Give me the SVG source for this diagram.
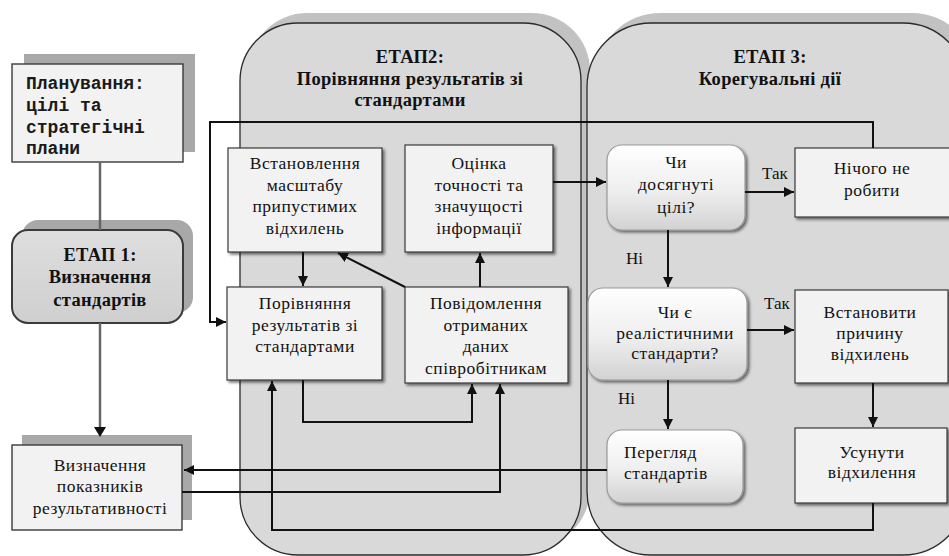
<svg xmlns="http://www.w3.org/2000/svg" width="949" height="556" viewBox="0 0 949 556">
  <defs>
    <style>
      .panel { fill: #d9d9d9; stroke: #2a2a2a; stroke-width: 1.3; }
      .panel-shadow { fill: #c2c2c2; }
      .box { fill: #f2f2f2; stroke: #3a3a3a; stroke-width: 1.4; }
      .box-shadow { fill: #a8a8a8; }
      .inner { fill: #f2f2f2; stroke: #3a3a3a; stroke-width: 1.2; filter: url(#soft); }
      .decision { fill: url(#decGrad); stroke: #9a9a9a; stroke-width: 1.2; filter: url(#soft); }
      .stage1 { fill: url(#st1Grad); stroke: #3a3a3a; stroke-width: 2; }
      .t { font-size: 17.5px; letter-spacing: 0.5px; fill: #111; text-anchor: middle; }
      .tl { font-size: 17.5px; letter-spacing: 0.5px; fill: #111; }
      .title { font-size: 18.5px; letter-spacing: 0.3px; font-weight: bold; fill: #111; text-anchor: middle; }
      .mono { font-size: 18px; fill: #1a1a1a; font-weight: bold; }
      .lbl { font-size: 17px; fill: #111; }
      .conn { fill: none; stroke: #111; stroke-width: 2; }
      .conn-gray { fill: none; stroke: #666; stroke-width: 2.5; }
    </style>
    <marker id="arrow" viewBox="0 0 10 10" refX="10" refY="5" markerWidth="10" markerHeight="10" markerUnits="userSpaceOnUse" orient="auto">
      <path d="M0,0 L10,5 L0,10 z" fill="#111"/>
    </marker>
    <linearGradient id="decGrad" x1="0" y1="0" x2="0" y2="1">
      <stop offset="0" stop-color="#ffffff"/>
      <stop offset="0.55" stop-color="#eeeeee"/>
      <stop offset="1" stop-color="#d2d2d2"/>
    </linearGradient>
    <linearGradient id="st1Grad" x1="0" y1="0" x2="0" y2="1">
      <stop offset="0" stop-color="#dedede"/>
      <stop offset="1" stop-color="#cfcfcf"/>
    </linearGradient>
    <filter id="soft" x="-10%" y="-10%" width="125%" height="130%">
      <feGaussianBlur in="SourceAlpha" stdDeviation="1.5"/>
      <feOffset dx="2" dy="2" result="b"/>
      <feComponentTransfer><feFuncA type="linear" slope="0.55"/></feComponentTransfer>
      <feMerge><feMergeNode/><feMergeNode in="SourceGraphic"/></feMerge>
    </filter>
  </defs>

  <rect width="949" height="556" fill="#ffffff"/>

  <g font-family="'Liberation Serif', 'DejaVu Serif', 'Times New Roman', serif">
  <!-- Stage 2 panel -->
  <g id="stage2">
    <rect class="panel-shadow" x="249" y="13" width="341" height="534" rx="58"/>
    <rect class="panel" x="240" y="23" width="341" height="532" rx="58"/>
    <text class="title" x="410" y="63">ЕТАП2:</text>
    <text class="title" x="410" y="85">Порівняння результатів зі</text>
    <text class="title" x="410" y="106">стандартами</text>
  </g>

  <!-- Stage 3 panel -->
  <g id="stage3">
    <rect class="panel-shadow" x="596" y="13" width="380" height="534" rx="64"/>
    <rect class="panel" x="587" y="23" width="380" height="532" rx="64"/>
    <text class="title" x="770" y="63">ЕТАП 3:</text>
    <text class="title" x="770" y="85">Корегувальні дії</text>
  </g>

  <!-- Left column -->
  <g id="planning">
    <rect class="box-shadow" x="24" y="54" width="171" height="98"/>
    <rect class="box" x="12" y="64" width="171" height="98"/>
    <g font-family="'Liberation Mono', 'DejaVu Sans Mono', monospace">
      <text class="mono" x="26" y="89">Планування:</text>
      <text class="mono" x="26" y="111">цілі та</text>
      <text class="mono" x="26" y="133">стратегічні</text>
      <text class="mono" x="26" y="154">плани</text>
    </g>
  </g>

  <g id="stage1">
    <rect class="box-shadow" x="22" y="220" width="171" height="93" rx="16"/>
    <rect class="stage1" x="12" y="230" width="171" height="93" rx="16"/>
    <text class="title" x="100" y="261">ЕТАП 1:</text>
    <text class="title" x="100" y="283">Визначення</text>
    <text class="title" x="100" y="306">стандартів</text>
  </g>

  <g id="indicators">
    <rect class="box-shadow" x="22" y="435" width="170" height="85"/>
    <rect class="box" x="12" y="445" width="170" height="85"/>
    <text class="t" x="100" y="471">Визначення</text>
    <text class="t" x="100" y="492">показників</text>
    <text class="t" x="100" y="514">результативності</text>
  </g>

  <!-- Stage 2 nodes -->
  <g id="set-scale">
    <rect class="inner" x="228" y="148" width="154" height="104"/>
    <text class="t" x="305" y="169">Встановлення</text>
    <text class="t" x="305" y="191">масштабу</text>
    <text class="t" x="305" y="212">припустимих</text>
    <text class="t" x="305" y="234">відхилень</text>
  </g>

  <g id="assess">
    <rect class="inner" x="405" y="145" width="148" height="107"/>
    <text class="t" x="479" y="169">Оцінка</text>
    <text class="t" x="479" y="191">точності та</text>
    <text class="t" x="479" y="212">значущості</text>
    <text class="t" x="479" y="234">інформації</text>
  </g>

  <g id="compare">
    <rect class="inner" x="227" y="287" width="155" height="93"/>
    <text class="t" x="305" y="309">Порівняння</text>
    <text class="t" x="305" y="331">результатів зі</text>
    <text class="t" x="305" y="352">стандартами</text>
  </g>

  <g id="report">
    <rect class="inner" x="405" y="287" width="163" height="96"/>
    <text class="t" x="486" y="309">Повідомлення</text>
    <text class="t" x="486" y="331">отриманих</text>
    <text class="t" x="486" y="352">даних</text>
    <text class="t" x="486" y="374">співробітникам</text>
  </g>

  <!-- Stage 3 nodes -->
  <g id="goals-reached">
    <rect class="decision" x="607" y="145" width="138" height="85" rx="15"/>
    <text class="t" x="676" y="168">Чи</text>
    <text class="t" x="676" y="190">досягнуті</text>
    <text class="t" x="676" y="213">цілі?</text>
  </g>

  <g id="do-nothing">
    <rect class="inner" x="795" y="148" width="155" height="69"/>
    <text class="t" x="872" y="174">Нічого не</text>
    <text class="t" x="872" y="196">робити</text>
  </g>

  <g id="realistic">
    <rect class="decision" x="588" y="288" width="159" height="92" rx="15"/>
    <text class="t" x="675" y="318">Чи є</text>
    <text class="t" x="675" y="339">реалістичними</text>
    <text class="t" x="675" y="359">стандарти?</text>
  </g>

  <g id="find-cause">
    <rect class="inner" x="795" y="290" width="153" height="93"/>
    <text class="t" x="870" y="318">Встановити</text>
    <text class="t" x="870" y="339">причину</text>
    <text class="t" x="870" y="360">відхилень</text>
  </g>

  <g id="revise">
    <rect class="decision" x="607" y="430" width="136" height="73" rx="15"/>
    <text class="tl" x="624" y="458">Перегляд</text>
    <text class="tl" x="624" y="479">стандартів</text>
  </g>

  <g id="eliminate">
    <rect class="inner" x="795" y="428" width="152" height="75"/>
    <text class="t" x="872" y="458">Усунути</text>
    <text class="t" x="872" y="478">відхилення</text>
  </g>

  <!-- Connectors -->
  <g id="connectors">
    <path class="conn-gray" d="M100,162 V230"/>
    <path class="conn-gray" d="M100,323 V428"/>
    <path d="M100,437 l-6,-10 h12 z" fill="#111"/>
    <path class="conn" d="M607,470 H184" marker-end="url(#arrow)"/>
    <path class="conn" d="M182,492 H500 V384" marker-end="url(#arrow)"/>
    <path class="conn" d="M303,380 V422 H472 V384" marker-end="url(#arrow)"/>
    <path class="conn" d="M873,503 V530 H272 V381" marker-end="url(#arrow)"/>
    <path class="conn" d="M873,148 V122 H210 V322 H226" marker-end="url(#arrow)"/>
    <path class="conn" d="M303,252 V286" marker-end="url(#arrow)"/>
    <path class="conn" d="M405,287 L338,253" marker-end="url(#arrow)"/>
    <path class="conn" d="M480,287 V253" marker-end="url(#arrow)"/>
    <path class="conn" d="M553,182 H606" marker-end="url(#arrow)"/>
    <path class="conn" d="M745,192 H794" marker-end="url(#arrow)"/>
    <path class="conn" d="M668,230 V287" marker-end="url(#arrow)"/>
    <path class="conn" d="M747,330 H794" marker-end="url(#arrow)"/>
    <path class="conn" d="M668,380 V429" marker-end="url(#arrow)"/>
    <path class="conn" d="M873,383 V427" marker-end="url(#arrow)"/>
  </g>

  <!-- Edge labels -->
  <g id="labels">
    <text class="lbl" x="762" y="179">Так</text>
    <text class="lbl" x="626" y="264">Ні</text>
    <text class="lbl" x="764" y="309">Так</text>
    <text class="lbl" x="618" y="404">Ні</text>
  </g>
  </g>
</svg>
